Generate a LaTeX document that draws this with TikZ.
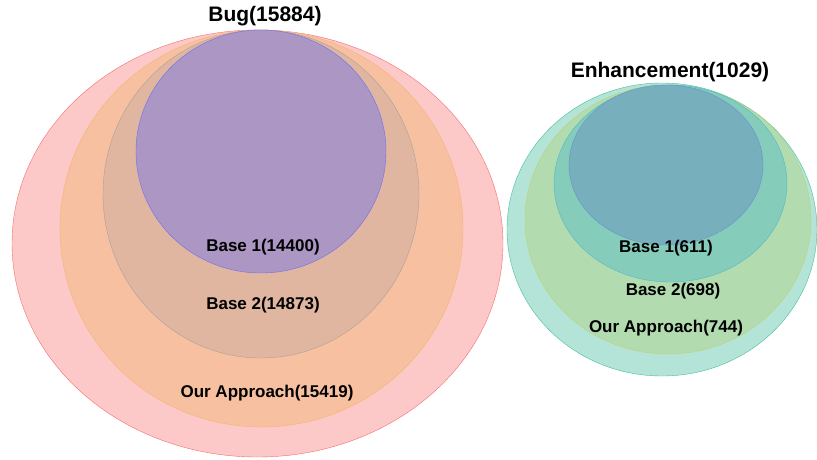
\documentclass[tikz,border=0pt]{standalone}
\usepackage{fontspec}
\setmainfont{Liberation Sans}
\usepackage{tikz}

\definecolor{redfill}{RGB}{252,200,200}
\definecolor{redline}{RGB}{246,110,110}
\definecolor{orangefill}{RGB}{247,193,161}
\definecolor{orangeline}{RGB}{244,180,110}
\definecolor{greyfill}{RGB}{224,182,160}
\definecolor{greyline}{RGB}{170,160,155}
\definecolor{purplefill}{RGB}{172,150,196}
\definecolor{purpleline}{RGB}{110,110,240}
\definecolor{tealfill}{RGB}{180,228,216}
\definecolor{tealline}{RGB}{70,190,155}
\definecolor{greenfill}{RGB}{178,219,176}
\definecolor{greenline}{RGB}{190,210,120}
\definecolor{cyanfill}{RGB}{133,205,186}
\definecolor{cyanline}{RGB}{80,185,200}
\definecolor{bluefill}{RGB}{120,175,189}
\definecolor{blueline}{RGB}{100,145,210}

\begin{document}
\begin{tikzpicture}[x=1pt,y=-1pt,
	setlabel/.style={font=\fontsize{17}{20}\selectfont\bfseries},
	settitle/.style={font=\fontsize{21}{24}\selectfont\bfseries}]
	\useasboundingbox (0,0) rectangle (817,460);

	% Bug
	\draw[draw=redline, fill=redfill] (257.5,243.5) ellipse [x radius=245.5, y radius=213.5];
	\draw[draw=orangeline, fill=orangefill] (261.5,228.5) ellipse [x radius=201.5, y radius=198.5];
	\draw[draw=greyline, fill=greyfill] (261,194) ellipse [x radius=158, y radius=164];
	\draw[draw=purpleline, fill=purplefill] (261,151.5) ellipse [x radius=125, y radius=121.5];

	\node[settitle] (bug) at (265,16) {Bug(15884)};
	\node[setlabel] (bbase1) at (263,247) {Base 1(14400)};
	\node[setlabel] (bbase2) at (263,305) {Base 2(14873)};
	\node[setlabel] (bours) at (267,393) {Our Approach(15419)};

	% Enhancement
	\draw[draw=tealline, fill=tealfill] (662,229.5) ellipse [x radius=155, y radius=146.5];
	\draw[draw=greenline, fill=greenfill] (668,219.5) ellipse [x radius=143, y radius=134.5];
	\draw[draw=cyanline, fill=cyanfill] (670.5,183.5) ellipse [x radius=116.5, y radius=98.5];
	\draw[draw=blueline, fill=bluefill] (666,165) ellipse [x radius=97, y radius=80];

	\node[settitle] (enh) at (670,72) {Enhancement(1029)};
	\node[setlabel] (ebase1) at (666,248) {Base 1(611)};
	\node[setlabel] (ebase2) at (673,291) {Base 2(698)};
	\node[setlabel] (eours) at (666,328) {Our Approach(744)};

\end{tikzpicture}
\end{document}
